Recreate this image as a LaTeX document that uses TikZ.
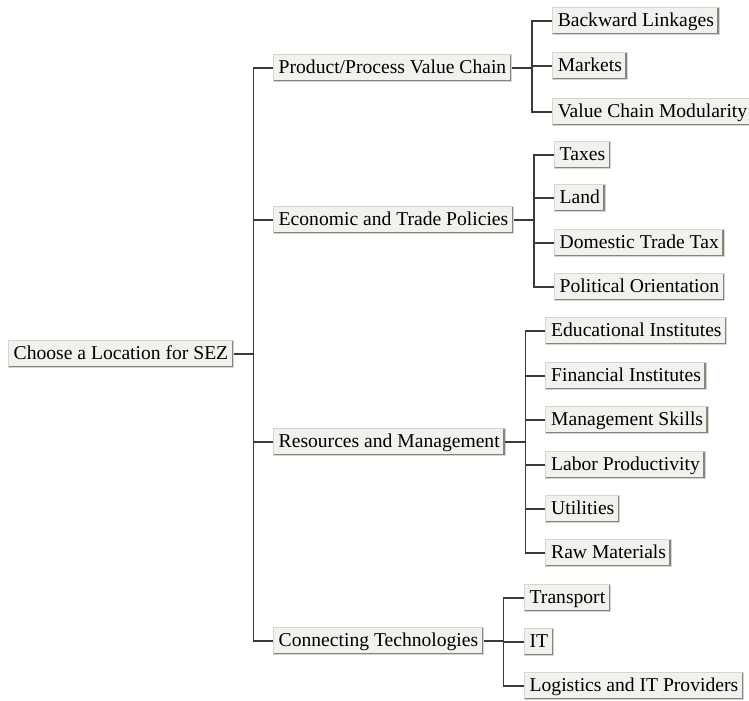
\documentclass[tikz,border=0pt]{standalone}
\usepackage{fontspec}
\setmainfont{Liberation Serif}
\usepackage{xcolor}
\usetikzlibrary{calc,positioning}
\definecolor{boxfill}{HTML}{F1F1ED}
\definecolor{boxrim}{HTML}{D6D6CE}
\definecolor{boxshade}{HTML}{85857D}
\definecolor{treeline}{HTML}{3A3A3A}
\tikzset{
	topic/.style={
			anchor=west, fill=boxfill, draw=boxrim, line width=0.6pt,
			font=\fontsize{14.7}{17}\selectfont, inner xsep=4pt, inner ysep=0pt,
			minimum height=20.5pt, text height=10.8pt, text depth=3pt,
			path picture={
					\draw[boxshade, line width=3pt]
					(path picture bounding box.south west) -- (path picture bounding box.south east)
					-- (path picture bounding box.north east);}
		},
	branch/.style={draw=treeline, line width=0.8pt}
}

\begin{document}
\begin{tikzpicture}[x=0.75pt, y=-0.75pt]
	\useasboundingbox (0,0) rectangle (749,700);

	\node[topic] (root) at (8,354) {Choose a Location for SEZ};

	\node[topic] (prod) at (273,68) {Product/Process Value Chain};
	\node[topic] (econ) at (273,220) {Economic and Trade Policies};
	\node[topic] (res) at (273,442) {Resources and Management};
	\node[topic] (conn) at (273,641) {Connecting Technologies};

	% value chain
	\node[topic] (back) at ($(prod.east |- 0,21)+(40,0)$) {Backward Linkages};
	\node[topic] (mark) at ($(prod.east |- 0,66)+(40,0)$) {Markets};
	\node[topic] (vcm) at ($(prod.east |- 0,112)+(40,0)$) {Value Chain Modularity};

	% policies
	\node[topic] (tax) at ($(econ.east |- 0,155)+(40,0)$) {Taxes};
	\node[topic] (land) at ($(econ.east |- 0,198)+(40,0)$) {Land};
	\node[topic] (dom) at ($(econ.east |- 0,243)+(40,0)$) {Domestic Trade Tax};
	\node[topic] (pol) at ($(econ.east |- 0,287)+(40,0)$) {Political Orientation};

	% resources
	\node[topic] (edu) at ($(res.east |- 0,331)+(40,0)$) {Educational Institutes};
	\node[topic] (fin) at ($(res.east |- 0,376)+(40,0)$) {Financial Institutes};
	\node[topic] (man) at ($(res.east |- 0,420)+(40,0)$) {Management Skills};
	\node[topic] (lab) at ($(res.east |- 0,465)+(40,0)$) {Labor Productivity};
	\node[topic] (util) at ($(res.east |- 0,509)+(40,0)$) {Utilities};
	\node[topic] (raw) at ($(res.east |- 0,553)+(40,0)$) {Raw Materials};

	% technologies
	\node[topic] (trans) at ($(conn.east |- 0,598)+(40,0)$) {Transport};
	\node[topic] (it) at ($(conn.east |- 0,642)+(40,0)$) {IT};
	\node[topic] (log) at ($(conn.east |- 0,686)+(40,0)$) {Logistics and IT Providers};

	\draw[branch] (root.east) -- ++(20,0) |- (prod.west);
	\draw[branch] (root.east) -- ++(20,0) |- (econ.west);
	\draw[branch] (root.east) -- ++(20,0) |- (res.west);
	\draw[branch] (root.east) -- ++(20,0) |- (conn.west);

	\draw[branch] (prod.east) -- ++(20,0) |- (back.west);
	\draw[branch] (prod.east) -- ++(20,0) |- (mark.west);
	\draw[branch] (prod.east) -- ++(20,0) |- (vcm.west);

	\draw[branch] (econ.east) -- ++(20,0) |- (tax.west);
	\draw[branch] (econ.east) -- ++(20,0) |- (land.west);
	\draw[branch] (econ.east) -- ++(20,0) |- (dom.west);
	\draw[branch] (econ.east) -- ++(20,0) |- (pol.west);

	\draw[branch] (res.east) -- ++(20,0) |- (edu.west);
	\draw[branch] (res.east) -- ++(20,0) |- (fin.west);
	\draw[branch] (res.east) -- ++(20,0) |- (man.west);
	\draw[branch] (res.east) -- ++(20,0) |- (lab.west);
	\draw[branch] (res.east) -- ++(20,0) |- (util.west);
	\draw[branch] (res.east) -- ++(20,0) |- (raw.west);

	\draw[branch] (conn.east) -- ++(20,0) |- (trans.west);
	\draw[branch] (conn.east) -- ++(20,0) |- (it.west);
	\draw[branch] (conn.east) -- ++(20,0) |- (log.west);
\end{tikzpicture}
\end{document}
